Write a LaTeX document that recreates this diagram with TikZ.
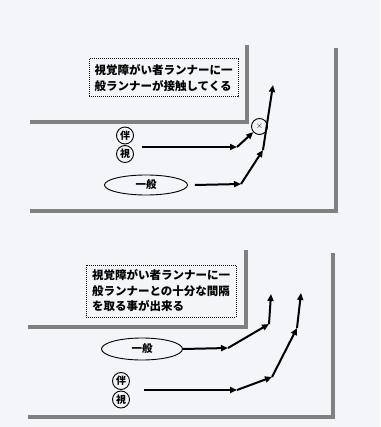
\documentclass[tikz,border=0pt]{standalone}
\usepackage{fontspec}
\newfontfamily\jp{Noto Sans CJK JP}
\usetikzlibrary{arrows.meta,shapes.geometric,calc}
\definecolor{bg}{RGB}{244,245,248}
\definecolor{wallc}{RGB}{128,128,128}
\tikzset{
  wallline/.style={draw=wallc,line width=4.5pt},
  arr/.style={draw=black,line width=2pt,-{Triangle[length=7pt,width=6pt]}},
  rc/.style={circle,draw=black,line width=0.9pt,inner sep=0pt,minimum size=17pt,font=\jp\bfseries\fontsize{10}{10}\selectfont},
  el/.style={ellipse,draw=black,line width=0.9pt,inner sep=0pt,font=\jp\bfseries\fontsize{10.5}{10.5}\selectfont},
  xc/.style={circle,draw=black,line width=0.9pt,inner sep=0pt,minimum size=16pt,font=\fontsize{9}{9}\selectfont},
  notebox/.style={draw=black,densely dotted,line width=1pt,inner sep=0pt,align=left,font=\jp\bfseries\fontsize{11.5}{15.5}\selectfont},
}
\begin{document}
\begin{tikzpicture}[x=1pt,y=-1pt]
\fill[bg] (0,0) rectangle (380,427);
\useasboundingbox (0,0) rectangle (380,427);
% ---------- top panel ----------
\draw[wallline] (30,122) -- (247,122) -- (247,45);
\draw[wallline] (30,211) -- (336,211) -- (336,48);
\node[notebox,minimum width=149pt,minimum height=38pt] (t1) at (163.5,78) {視覚障がい者ランナーに一\\般ランナーが接触してくる};
\node[rc] (ban1) at (125,135.5) {伴};
\node[rc] (shi1) at (125,154) {視};
\node[el,minimum width=83pt,minimum height=20pt] (ip1) at (146,185) {一般};
\node[xc] (x1) at (259.5,126.5) {$\times$};
\coordinate (p1) at (237,147);
\coordinate (q1) at (241,184);
\coordinate (q2) at (263,150);
\coordinate (q3) at (273,85);
\draw[arr] (142,147) -- (p1);
\draw[arr] (p1) -- (x1);
\draw[arr] ([xshift=7pt]ip1.east) -- (q1);
\draw[arr] (q1) -- (q2);
\draw[arr] (q2) -- (q3);
% ---------- bottom panel ----------
\draw[wallline] (28,327) -- (246,327) -- (246,250);
\draw[wallline] (28,417) -- (333,417) -- (333,253);
\node[notebox,minimum width=150pt,minimum height=52pt] (t2) at (161,291) {視覚障がい者ランナーに一\\般ランナーとの十分な間隔\\を取る事が出来る};
\node[el,minimum width=81pt,minimum height=22pt] (ip2) at (142,349) {一般};
\node[rc] (ban2) at (121,381) {伴};
\node[rc] (shi2) at (121,399.5) {視};
\coordinate (r1) at (228,348);
\coordinate (r2) at (269,324);
\coordinate (r3) at (271,294);
\coordinate (s1) at (237,390);
\coordinate (s2) at (272,377);
\coordinate (s3) at (297,328);
\coordinate (s4) at (301,293);
\draw[arr] (ip2.east) -- (r1);
\draw[arr] (r1) -- (r2);
\draw[arr] (r2) -- (r3);
\draw[arr] (144,390) -- (s1);
\draw[arr] (s1) -- (s2);
\draw[arr] (s2) -- (s3);
\draw[arr] (s3) -- (s4);
\end{tikzpicture}
\end{document}
